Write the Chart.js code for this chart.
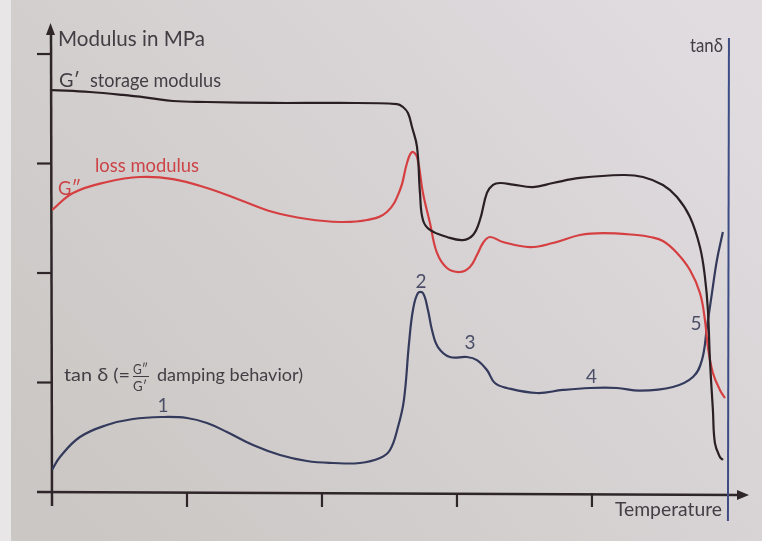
<!DOCTYPE html>
<html>
<head>
<meta charset="utf-8">
<script src="https://cdn.jsdelivr.net/npm/chart.js@4/dist/chart.umd.min.js"></script>
<style>
html, body { margin: 0; padding: 0; background: #d6d2d3; }
#wrap { width: 762px; height: 541px; }
</style>
</head>
<body>
<div id="wrap"><canvas id="dma" width="762" height="541"></canvas></div>
<script>
// axes are in arbitrary units: one tick per unit on both axes
const xTicks = [1, 2, 3, 4];
const yTicks = [1, 2, 3, 4];

// G' storage modulus (black)
const storageT = [0, 0.281, 0.526, 0.726, 0.896, 1.148, 1.637, 2.133, 2.556, 2.600, 2.637, 2.667, 2.704, 2.726, 2.748, 2.800, 2.926, 3.044, 3.119, 3.170, 3.222, 3.267, 3.319, 3.415, 3.563, 3.711, 3.911, 4.230, 4.378, 4.526, 4.630, 4.726, 4.800, 4.837, 4.859, 4.874, 4.896, 4.911, 4.948, 4.970];
const storageG = [3.671, 3.653, 3.626, 3.598, 3.571, 3.562, 3.553, 3.553, 3.543, 3.516, 3.461, 3.333, 3.151, 2.731, 2.484, 2.393, 2.329, 2.301, 2.347, 2.484, 2.731, 2.804, 2.822, 2.808, 2.785, 2.822, 2.868, 2.895, 2.877, 2.804, 2.694, 2.511, 2.237, 1.963, 1.662, 1.205, 0.749, 0.447, 0.320, 0.292];

// G'' loss modulus (red)
const lossT = [0, 0.156, 0.407, 0.652, 0.896, 1.148, 1.393, 1.637, 1.889, 2.133, 2.333, 2.481, 2.578, 2.630, 2.667, 2.704, 2.748, 2.800, 2.852, 2.926, 3.022, 3.096, 3.148, 3.193, 3.244, 3.341, 3.541, 3.711, 3.911, 4.081, 4.333, 4.430, 4.526, 4.630, 4.726, 4.800, 4.837, 4.859, 4.896, 4.948, 4.985];
const lossG = [2.575, 2.731, 2.831, 2.877, 2.858, 2.776, 2.667, 2.557, 2.493, 2.466, 2.484, 2.557, 2.758, 3.005, 3.105, 3.059, 2.731, 2.457, 2.183, 2.046, 2.009, 2.055, 2.164, 2.274, 2.329, 2.283, 2.237, 2.274, 2.347, 2.365, 2.347, 2.329, 2.292, 2.183, 2.027, 1.817, 1.571, 1.324, 1.087, 0.932, 0.858];

// tan delta damping (navy)
const tanT = [0, 0.059, 0.207, 0.407, 0.600, 0.822, 1.000, 1.148, 1.296, 1.489, 1.689, 1.889, 2.081, 2.281, 2.430, 2.504, 2.563, 2.607, 2.645, 2.674, 2.711, 2.748, 2.785, 2.815, 2.859, 2.948, 3.074, 3.148, 3.222, 3.281, 3.370, 3.593, 3.785, 3.985, 4.185, 4.356, 4.600, 4.748, 4.815, 4.852, 4.889, 4.926, 4.970];
const tanD = [0.201, 0.320, 0.502, 0.612, 0.667, 0.685, 0.676, 0.630, 0.548, 0.429, 0.338, 0.283, 0.265, 0.265, 0.311, 0.384, 0.594, 0.840, 1.361, 1.662, 1.817, 1.817, 1.662, 1.479, 1.324, 1.233, 1.233, 1.205, 1.114, 0.995, 0.950, 0.904, 0.932, 0.950, 0.950, 0.925, 0.959, 1.050, 1.205, 1.507, 1.817, 2.119, 2.374];

// transition labels 1..5 and where they sit
const peakNames = ['1', '2', '3', '4', '5'];
const peakT = [0.822, 2.733, 3.096, 3.996, 4.770];
const peakY = [0.785, 1.918, 1.362, 1.050, 1.535];

const toPts = (xs, ys) => xs.map((x, i) => ({ x: x, y: ys[i] }));

const INK = '#423e44';
const RED = '#cc4347';
const NAVY = '#343a5c';

// draw text, squeezed horizontally to the width it has in the picture
function label(ctx, text, x, y, size, color, width, font) {
    ctx.save();
    ctx.font = size + 'px ' + (font || 'Lato, "Open Sans", sans-serif');
    ctx.fillStyle = color;
    ctx.textBaseline = 'alphabetic';
    ctx.textAlign = 'left';
    const w = ctx.measureText(text).width;
    ctx.translate(x, y);
    if (width) ctx.scale(width / w, 1);
    ctx.fillText(text, 0, 0);
    ctx.restore();
}

const paperPlugin = {
    id: 'paper',
    beforeDraw(chart) {
        const ctx = chart.ctx;
        const g = ctx.createLinearGradient(700, 0, 100, 541);
        g.addColorStop(0, '#e0dce0');
        g.addColorStop(1, '#cbc7c4');
        ctx.save();
        ctx.fillStyle = g;
        ctx.fillRect(0, 0, chart.width, chart.height);
        ctx.fillStyle = '#e8e6e7';
        ctx.fillRect(0, 0, 11, chart.height);
        ctx.restore();
    },
    beforeDatasetsDraw(chart) {
        const ctx = chart.ctx;
        const xs = chart.scales.x, ys = chart.scales.y;
        const x0 = xs.getPixelForValue(0), y0 = ys.getPixelForValue(0);
        ctx.save();
        ctx.strokeStyle = '#2e2628';
        ctx.fillStyle = '#2e2628';
        ctx.lineWidth = 2.5;
        // modulus axis
        ctx.beginPath();
        ctx.moveTo(x0 - 1, 30);
        ctx.lineTo(x0, y0 + 14);
        ctx.stroke();
        ctx.beginPath();
        ctx.moveTo(x0 - 1.5, 23);
        ctx.lineTo(x0 - 6, 35);
        ctx.lineTo(x0 + 3, 35);
        ctx.closePath();
        ctx.fill();
        // temperature axis
        ctx.beginPath();
        ctx.moveTo(37, y0);
        ctx.lineTo(xs.right - 8, y0 + 3);
        ctx.stroke();
        ctx.beginPath();
        ctx.moveTo(xs.right + 1, y0 + 3);
        ctx.lineTo(xs.right - 11, y0 - 2);
        ctx.lineTo(xs.right - 11, y0 + 8);
        ctx.closePath();
        ctx.fill();
        ctx.lineWidth = 2.2;
        yTicks.forEach(v => {
            const p = ys.getPixelForValue(v);
            ctx.beginPath();
            ctx.moveTo(x0 - 15, p);
            ctx.lineTo(x0, p);
            ctx.stroke();
        });
        xTicks.forEach(v => {
            const p = xs.getPixelForValue(v);
            ctx.beginPath();
            ctx.moveTo(p, y0 + 1);
            ctx.lineTo(p, y0 + 15);
            ctx.stroke();
        });
        // tan delta axis on the right
        const xr = xs.getPixelForValue(5.0);
        ctx.strokeStyle = '#3d4c84';
        ctx.lineWidth = 2;
        ctx.beginPath();
        ctx.moveTo(xr + 2, 38);
        ctx.lineTo(xr + 1, 521);
        ctx.stroke();
        ctx.restore();
    },
    afterDraw(chart) {
        const ctx = chart.ctx;
        const xs = chart.scales.x, ys = chart.scales.y;
        label(ctx, 'Modulus in MPa', 58, 46, 22, INK, 147);
        label(ctx, 'G\u2032', 59, 87, 19, INK, 21);
        label(ctx, 'storage modulus', 90, 87, 19, INK, 131);
        label(ctx, 'loss modulus', 95, 172, 19, RED, 104);
        label(ctx, 'G\u2033', 58, 195, 20, RED, 23);
        label(ctx, 'tan \u03b4 (=', 64, 381, 18, INK, 66);
        label(ctx, 'G\u2033', 133, 374, 13, INK, 15);
        ctx.save();
        ctx.strokeStyle = INK;
        ctx.lineWidth = 1;
        ctx.beginPath();
        ctx.moveTo(133, 376.5);
        ctx.lineTo(149, 376.5);
        ctx.stroke();
        ctx.restore();
        label(ctx, 'G\u2032', 133, 391, 13, INK, 14);
        label(ctx, 'damping behavior)', 157, 381, 18, INK, 146);
        label(ctx, 'tan\u03b4', 690, 52, 19, INK, 33);
        label(ctx, 'Temperature', 615, 516, 20, INK, 107);
        ctx.save();
        ctx.font = '19px Lato, "Open Sans", sans-serif';
        ctx.fillStyle = '#4b4e66';
        ctx.textAlign = 'center';
        ctx.textBaseline = 'middle';
        peakNames.forEach((n, i) => {
            ctx.fillText(n, xs.getPixelForValue(peakT[i]), ys.getPixelForValue(peakY[i]));
        });
        ctx.restore();
    }
};

const lineStyle = {
    pointRadius: 0,
    borderWidth: 2.2,
    fill: false,
    tension: 0.4
};

new Chart(document.getElementById('dma'), {
    type: 'line',
    data: {
        datasets: [
            Object.assign({ label: "G' storage modulus", data: toPts(storageT, storageG), borderColor: '#2a2024' }, lineStyle),
            Object.assign({ label: "G'' loss modulus", data: toPts(lossT, lossG), borderColor: '#d63f41' }, lineStyle),
            Object.assign({ label: 'tan delta', data: toPts(tanT, tanD), borderColor: NAVY }, lineStyle)
        ]
    },
    options: {
        responsive: false,
        animation: false,
        devicePixelRatio: 1,
        layout: { padding: { left: 52, right: 14, top: 25, bottom: 49 } },
        plugins: {
            legend: { display: false },
            tooltip: { enabled: false }
        },
        scales: {
            x: { type: 'linear', min: 0, max: 5.156, display: false },
            y: { type: 'linear', min: 0, max: 4.265, display: false }
        }
    },
    plugins: [paperPlugin]
});
</script>
</body>
</html>
